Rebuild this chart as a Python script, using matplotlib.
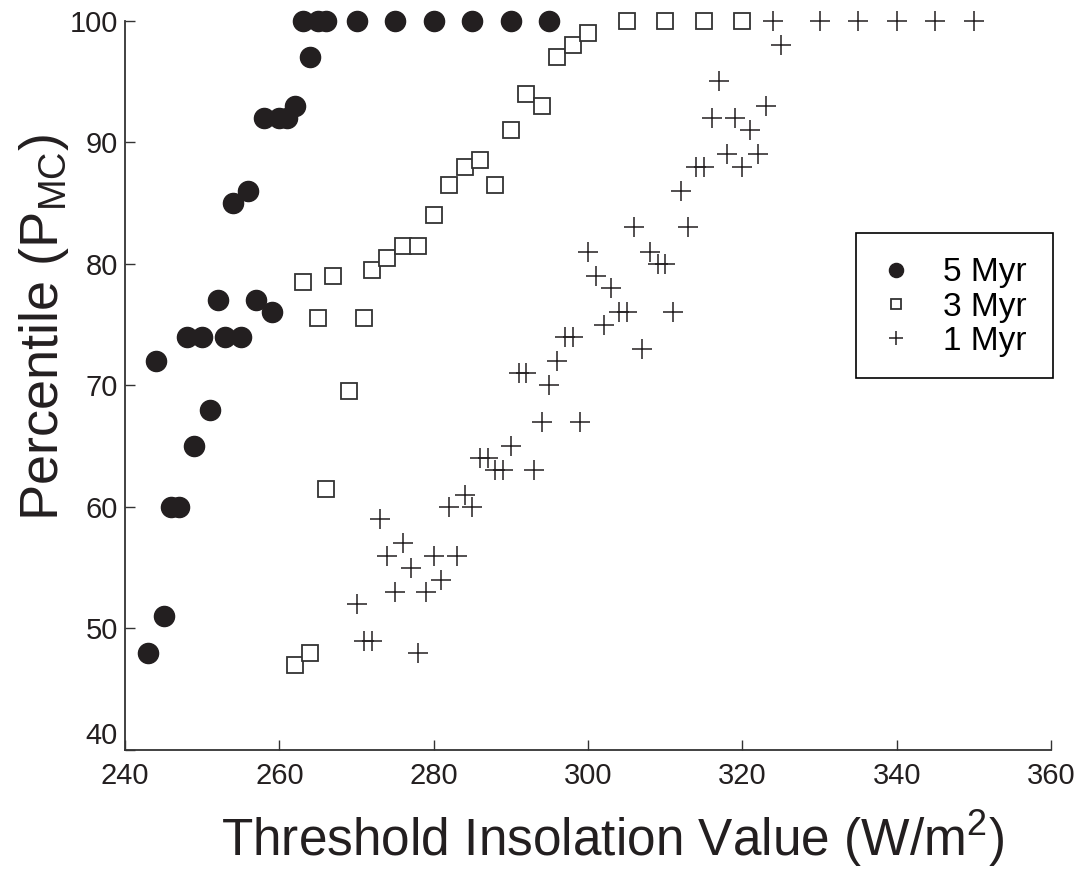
import numpy as np
import matplotlib
matplotlib.use("Agg")
import matplotlib.pyplot as plt
from matplotlib.patches import Rectangle

plt.rcParams['font.family'] = ['Liberation Sans', 'DejaVu Sans']
plt.rcParams['mathtext.fontset'] = 'custom'
plt.rcParams['mathtext.rm'] = 'Liberation Sans'
plt.rcParams['mathtext.it'] = 'Liberation Sans'

# 5 Myr (filled circles)
x5 = [243, 244, 245, 246, 247, 248, 249, 250, 251, 252, 253, 254, 255, 256, 257,
      258, 259, 260, 261, 262, 263, 264, 265, 266, 270, 275, 280, 285, 290, 295]
y5 = [48, 72, 51, 60, 60, 74, 65, 74, 68, 77, 74, 85, 74, 86, 77,
      92, 76, 92, 92, 93, 100, 97, 100, 100, 100, 100, 100, 100, 100, 100]

# 3 Myr (open squares)
x3 = [262, 263, 264, 265, 266, 267, 269, 271, 272, 274, 276, 278, 280, 282,
      284, 286, 288, 290, 292, 294, 296, 298, 300, 305, 310, 315, 320]
y3 = [47, 78.5, 48, 75.5, 61.5, 79, 69.5, 75.5, 79.5, 80.5, 81.5, 81.5, 84, 86.5,
      88, 88.5, 86.5, 91, 94, 93, 97, 98, 99, 100, 100, 100, 100]

# 1 Myr (plus)
x1 = [270, 271, 272, 273, 274, 275, 276, 277, 278, 279, 280, 281, 282, 283,
      284, 285, 286, 287, 288, 289, 290, 291, 292, 293, 294, 295, 296, 297,
      298, 299, 300, 301, 302, 303, 304, 305, 306, 307, 308, 309, 310, 311,
      312, 313, 314, 315, 316, 317, 318, 319, 320, 321, 322, 323, 324, 325,
      330, 335, 340, 345, 350]
y1 = [52, 49, 49, 59, 56, 53, 57, 55, 48, 53, 56, 54, 60, 56,
      61, 60, 64, 64, 63, 63, 65, 71, 71, 63, 67, 70, 72, 74,
      74, 67, 81, 79, 75, 78, 76, 76, 83, 73, 81, 80, 80, 76,
      86, 83, 88, 88, 92, 95, 89, 92, 88, 91, 89, 93, 100, 98,
      100, 100, 100, 100, 100]

fig = plt.figure(figsize=(10.87, 8.73), dpi=100)
ax = fig.add_axes([0.115, 0.1409, 0.852, 0.8354])

ax.plot(x5, y5, 'o', color='#231f20', markersize=14.5, label='5 Myr',
        clip_on=False)
ax.plot(x3, y3, 's', markerfacecolor='white', markeredgecolor='#333333',
        markeredgewidth=1.3, markersize=11, label='3 Myr', clip_on=False)
ax.plot(x1, y1, '+', color='#231f20', markeredgewidth=1.1, markersize=14,
        label='1 Myr', clip_on=False)

ax.set_xlim(240, 360)
ax.set_ylim(40, 100)
ax.set_xticks(np.arange(240, 361, 20))
ax.set_yticks(np.arange(40, 101, 10))
ax.spines['top'].set_visible(False)
ax.spines['right'].set_visible(False)
for s in ['left', 'bottom']:
    ax.spines[s].set_color('#333333')
    ax.spines[s].set_linewidth(1.3)
ax.tick_params(direction='in', length=7, width=1, colors='#333333',
               labelsize=21, labelcolor='#231f20')
ax.tick_params(axis='x', pad=9)
ax.tick_params(axis='y', pad=5)
# lowest y label sits just above the x axis
ax.get_yticklabels()[0].set_verticalalignment('bottom')

ax.set_xlabel(r'Threshold Insolation Value (W/m$^2$)', fontsize=37,
              color='#231f20')
ax.xaxis.set_label_coords(0.526, -0.08)
ax.set_ylabel(r'Percentile (P$_{\mathrm{MC}}$)', fontsize=39, color='#231f20')
ax.yaxis.set_label_coords(-0.058, 0.58)

# legend box drawn separately (wide vertical padding, narrow horizontal)
ax.add_patch(Rectangle((0.7894, 0.5097), 0.2126, 0.1988,
                       transform=ax.transAxes, facecolor='white',
                       edgecolor='black', linewidth=1.2, clip_on=False,
                       zorder=4))
leg = ax.legend(loc='center left', bbox_to_anchor=(0.815, 0.607),
                fontsize=24, frameon=False, borderpad=0, borderaxespad=0,
                handletextpad=0.9, labelspacing=0.1, handlelength=1.0,
                markerscale=0.7)
leg.set_zorder(5)

fig.savefig('out.png', dpi=100)
